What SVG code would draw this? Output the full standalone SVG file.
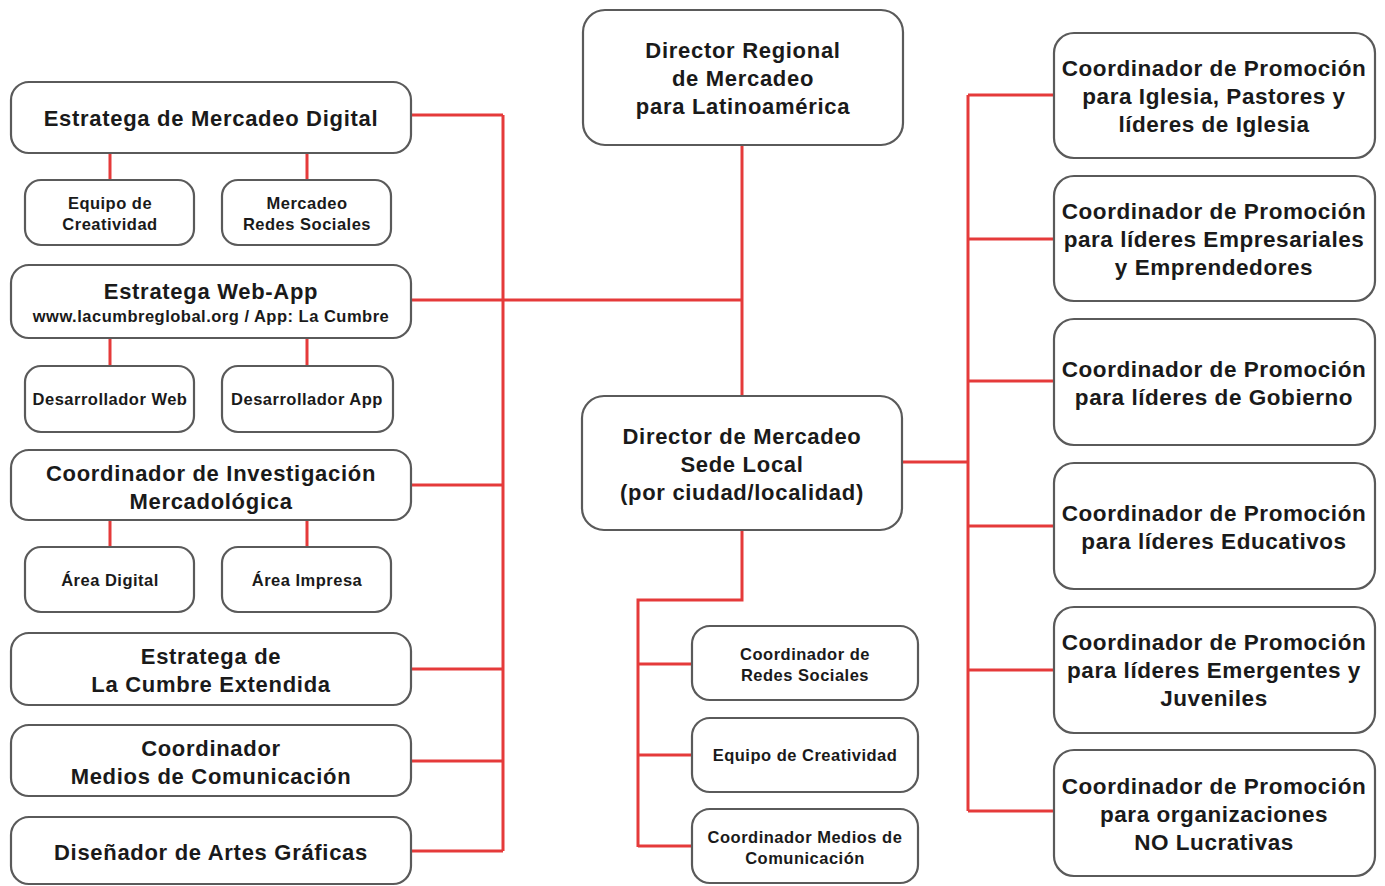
<svg xmlns="http://www.w3.org/2000/svg" width="1385" height="886" viewBox="0 0 1385 886">
<style>
.b{fill:#fff;stroke:#5a5a5a;stroke-width:2.2}
.t{font-family:"Liberation Sans",Arial,sans-serif;font-weight:bold;fill:#1a1a1a;text-anchor:middle}
.L{font-size:22px;letter-spacing:0.7px}
.R{font-size:22.5px;letter-spacing:0.55px}
.S{font-size:16.5px;letter-spacing:0.5px}
.c{fill:none;stroke:#e53a3a;stroke-width:3}
</style>
<rect width="1385" height="886" fill="#fff"/>
<g id="connectors">
<path class="c" d="M411 115H503M411 300H742M411 485H503M411 669H503M411 761H503M411 851H503M503 115V851"/>
<path class="c" d="M110 153V180M307 153V180M110 338V366M307 338V366M110 520V547M307 520V547"/>
<path class="c" d="M742 145V396"/>
<path class="c" d="M902 462H968M968 95V811M968 95H1054M968 239H1054M968 381H1054M968 526H1054M968 670H1054M968 811H1054"/>
<path class="c" d="M742 530V600H638V847M638 664H692M638 755H692M638 846H692"/>
</g>
<g id="n1"><rect class="b" x="11" y="82" width="400" height="71" rx="18"/><text class="t L" x="211" y="126">Estratega de Mercadeo Digital</text></g>
<g id="n2"><rect class="b" x="25" y="180" width="169" height="65" rx="16"/><text class="t S" x="110" y="209">Equipo de</text><text class="t S" x="110" y="230">Creatividad</text></g>
<g id="n3"><rect class="b" x="222" y="180" width="169" height="65" rx="16"/><text class="t S" x="307" y="209">Mercadeo</text><text class="t S" x="307" y="230">Redes Sociales</text></g>
<g id="n4"><rect class="b" x="11" y="265" width="400" height="73" rx="18"/><text class="t L" x="211" y="299">Estratega Web-App</text><text class="t S" x="211" y="322">www.lacumbreglobal.org / App: La Cumbre</text></g>
<g id="n5"><rect class="b" x="25" y="366" width="169" height="66" rx="16"/><text class="t S" x="110" y="405">Desarrollador Web</text></g>
<g id="n6"><rect class="b" x="222" y="366" width="171" height="66" rx="16"/><text class="t S" x="307" y="405">Desarrollador App</text></g>
<g id="n7"><rect class="b" x="11" y="450" width="400" height="70" rx="18"/><text class="t L" x="211" y="481">Coordinador de Investigación</text><text class="t L" x="211" y="509">Mercadológica</text></g>
<g id="n8"><rect class="b" x="25" y="547" width="169" height="65" rx="16"/><text class="t S" x="110" y="586">Área Digital</text></g>
<g id="n9"><rect class="b" x="222" y="547" width="169" height="65" rx="16"/><text class="t S" x="307" y="586">Área Impresa</text></g>
<g id="n10"><rect class="b" x="11" y="633" width="400" height="72" rx="18"/><text class="t L" x="211" y="664">Estratega de</text><text class="t L" x="211" y="692">La Cumbre Extendida</text></g>
<g id="n11"><rect class="b" x="11" y="725" width="400" height="71" rx="18"/><text class="t L" x="211" y="756">Coordinador</text><text class="t L" x="211" y="784">Medios de Comunicación</text></g>
<g id="n12"><rect class="b" x="11" y="817" width="400" height="67" rx="18"/><text class="t L" x="211" y="860">Diseñador de Artes Gráficas</text></g>
<g id="n13"><rect class="b" x="583" y="10" width="320" height="135" rx="22"/><text class="t L" x="743" y="58">Director Regional</text><text class="t L" x="743" y="86">de Mercadeo</text><text class="t L" x="743" y="114">para Latinoamérica</text></g>
<g id="n14"><rect class="b" x="582" y="396" width="320" height="134" rx="22"/><text class="t L" x="742" y="444">Director de Mercadeo</text><text class="t L" x="742" y="472">Sede Local</text><text class="t L" x="742" y="500">(por ciudad/localidad)</text></g>
<g id="n15"><rect class="b" x="692" y="626" width="226" height="74" rx="18"/><text class="t S" x="805" y="660">Coordinador de</text><text class="t S" x="805" y="681">Redes Sociales</text></g>
<g id="n16"><rect class="b" x="692" y="718" width="226" height="74" rx="18"/><text class="t S" x="805" y="761">Equipo de Creatividad</text></g>
<g id="n17"><rect class="b" x="692" y="809" width="226" height="74" rx="18"/><text class="t S" x="805" y="843">Coordinador Medios de</text><text class="t S" x="805" y="864">Comunicación</text></g>
<g id="n18"><rect class="b" x="1054" y="33" width="321" height="125" rx="20"/><text class="t R" x="1214" y="76">Coordinador de Promoción</text><text class="t R" x="1214" y="104">para Iglesia, Pastores y</text><text class="t R" x="1214" y="132">líderes de Iglesia</text></g>
<g id="n19"><rect class="b" x="1054" y="176" width="321" height="125" rx="20"/><text class="t R" x="1214" y="219">Coordinador de Promoción</text><text class="t R" x="1214" y="247">para líderes Empresariales</text><text class="t R" x="1214" y="275">y Emprendedores</text></g>
<g id="n20"><rect class="b" x="1054" y="319" width="321" height="126" rx="20"/><text class="t R" x="1214" y="377">Coordinador de Promoción</text><text class="t R" x="1214" y="405">para líderes de Gobierno</text></g>
<g id="n21"><rect class="b" x="1054" y="463" width="321" height="126" rx="20"/><text class="t R" x="1214" y="521">Coordinador de Promoción</text><text class="t R" x="1214" y="549">para líderes Educativos</text></g>
<g id="n22"><rect class="b" x="1054" y="607" width="321" height="126" rx="20"/><text class="t R" x="1214" y="650">Coordinador de Promoción</text><text class="t R" x="1214" y="678">para líderes Emergentes y</text><text class="t R" x="1214" y="706">Juveniles</text></g>
<g id="n23"><rect class="b" x="1054" y="750" width="321" height="126" rx="20"/><text class="t R" x="1214" y="794">Coordinador de Promoción</text><text class="t R" x="1214" y="822">para organizaciones</text><text class="t R" x="1214" y="850">NO Lucrativas</text></g>
</svg>
